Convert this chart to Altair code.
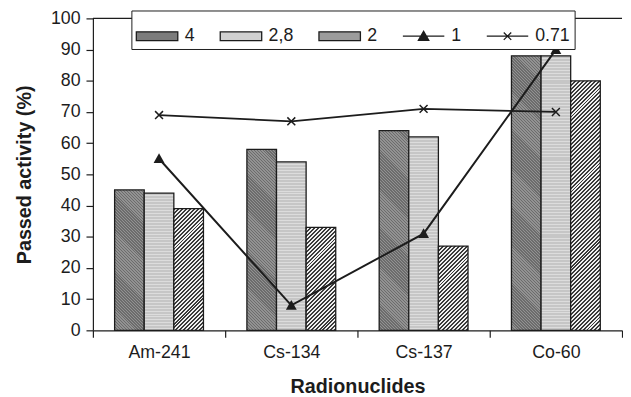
import math
import altair as alt
import pandas as pd

# ---- data ----
categories = ["Am-241", "Cs-134", "Cs-137", "Co-60"]
bar_series = ["4", "2,8", "2"]
line_series = ["1", "0.71"]
vals_4 = [45, 58, 64, 88]
vals_28 = [44, 54, 62, 88]
vals_2 = [39, 33, 27, 80]
vals_1 = [55, 8, 31, 90]
vals_071 = [69, 67, 71, 70]
y_ticks = [0, 10, 20, 30, 40, 50, 60, 70, 80, 90, 100]

# ---- layout / style ----
PLOT_W, PLOT_H = 536, 316
STEP = PLOT_W / len(categories)
BAR_W = 30
OFF_PAD = (STEP / BAR_W - 3) / 2
INK = "#1c1c1c"
FONT = "Liberation Sans"
R2 = math.sqrt(2)


def stripe_gradient(w, h, period, frac, c_dark, c_light, direction):
    if direction == "h":
        x1, y1, x2, y2 = 0, 0, 0, 1
        span = h
    else:
        k = (w + h) / (w * w + h * h)
        span = (w + h) / R2
        if direction == "/":
            x1, y1, x2, y2 = 0, 0, k * w, k * h
        else:
            x1, y1, x2, y2 = 0, 1, k * w, 1 - k * h
    n = span / period
    stops = []
    i = 0
    while i / n < 1:
        o0 = min(i / n, 1)
        o1 = min((i + frac) / n, 1)
        o2 = min((i + 1) / n, 1)
        stops += [
            alt.GradientStop(offset=o0, color=c_dark),
            alt.GradientStop(offset=o1, color=c_dark),
            alt.GradientStop(offset=o1, color=c_light),
            alt.GradientStop(offset=o2, color=c_light),
        ]
        i += 1
    return alt.LinearGradient(gradient="linear", stops=stops,
                              x1=x1, y1=y1, x2=x2, y2=y2)


styles = {
    "4": dict(period=3 / R2, frac=0.5, c_dark="#6c6c6c", c_light="#929292", direction="\\"),
    "2,8": dict(period=3.0, frac=0.67, c_dark="#c6c6c6", c_light="#dcdcdc", direction="h"),
    "2": dict(period=4 / R2, frac=0.5, c_dark="#3a3a3a", c_light="#efefef", direction="/"),
}

X = alt.X(
    "cat:N",
    sort=categories,
    scale=alt.Scale(domain=categories, paddingInner=0, paddingOuter=0),
    axis=alt.Axis(
        title="Radionuclides", labelAngle=0, tickBand="extent", tickSize=7,
        labelPadding=7, titlePadding=15, labelFontSize=18, titleFontSize=20,
        titleFontWeight="bold", domainColor=INK, tickColor=INK, labelColor=INK,
        titleColor=INK, domainWidth=1.2, tickWidth=1.2,
    ),
)
XO = alt.XOffset(
    "series:N",
    scale=alt.Scale(domain=bar_series, paddingInner=0, paddingOuter=OFF_PAD),
)
Y = alt.Y(
    "value:Q",
    scale=alt.Scale(domain=[0, 100], nice=False),
    axis=alt.Axis(
        title="Passed activity (%)", values=y_ticks, grid=False, tickSize=7,
        labelPadding=6, titlePadding=16, labelFontSize=18, titleFontSize=20,
        titleFontWeight="bold", domainColor=INK, tickColor=INK, labelColor=INK,
        titleColor=INK, domainWidth=1.2, tickWidth=1.2,
    ),
)

layers = []

# top frame line at 100
layers.append(
    alt.Chart(pd.DataFrame({"value": [100]}))
    .mark_rule(color=INK, strokeWidth=1.2)
    .encode(y=Y)
)

# bars, each with its own hatch gradient
for sname, vals in zip(bar_series, [vals_4, vals_28, vals_2]):
    for cat, v in zip(categories, vals):
        grad = stripe_gradient(BAR_W, v * PLOT_H / 100, **styles[sname])
        layers.append(
            alt.Chart(pd.DataFrame({"cat": [cat], "series": [sname], "value": [v]}))
            .mark_bar(fill=grad, stroke=INK, strokeWidth=1.3)
            .encode(x=X, xOffset=XO, y=Y)
        )

df1 = pd.DataFrame({"cat": categories, "value": vals_1})
df071 = pd.DataFrame({"cat": categories, "value": vals_071})

layers.append(alt.Chart(df1).mark_line(color=INK, strokeWidth=2).encode(x=X, y=Y))
layers.append(
    alt.Chart(df1)
    .mark_point(shape="M0,-1L1,0.8L-1,0.8Z", filled=True, color=INK, size=121, opacity=1)
    .encode(x=X, y=Y)
)
layers.append(alt.Chart(df071).mark_line(color=INK, strokeWidth=1.8).encode(x=X, y=Y))
layers.append(
    alt.Chart(df071)
    .mark_point(shape="M-1,-1L1,1M-1,1L1,-1", filled=False, color=INK,
                size=64, strokeWidth=1.5, opacity=1)
    .encode(x=X, y=Y)
)

# invisible layer that carries the legend
all_series = bar_series + line_series
leg_rows = []
for sname, vals in zip(all_series, [vals_4, vals_28, vals_2, vals_1, vals_071]):
    for cat, v in zip(categories, vals):
        leg_rows.append({"cat": cat, "series": sname, "value": v})
leg_df = pd.DataFrame(leg_rows)

bar_shape = "M-1,-0.21H1V0.21H-1Z"
tri_shape = "M-1,0H1M-0.25,0.2L0,-0.24L0.25,0.2Z"
x_shape = "M-1,0H1M-0.18,-0.18L0.18,0.18M-0.18,0.18L0.18,-0.18"

legend = alt.Legend(
    title=None, orient="none", legendX=39, legendY=-8, direction="horizontal",
    fillColor="white", strokeColor=INK, padding=4,
    symbolSize=1764, symbolStrokeWidth=1.3, symbolOpacity=1,
    labelFontSize=18, labelColor=INK, labelOffset=6, columnPadding=22,
    labelFont=FONT,
)
layers.append(
    alt.Chart(leg_df)
    .mark_point(opacity=0, size=1)
    .encode(
        x=X,
        y=Y,
        fill=alt.Fill("series:N", scale=alt.Scale(domain=all_series,
                      range=["#7c7c7c", "#d0d0d0", "#9c9c9c", INK, INK]), legend=legend),
        stroke=alt.Stroke("series:N", scale=alt.Scale(domain=all_series,
                          range=[INK, INK, INK, INK, INK]), legend=legend),
        shape=alt.Shape("series:N", scale=alt.Scale(domain=all_series,
                        range=[bar_shape, bar_shape, bar_shape, tri_shape, x_shape]),
                        legend=legend),
    )
)

chart = (
    alt.layer(*layers)
    .properties(
        width=PLOT_W, height=PLOT_H,
        autosize=alt.AutoSizeParams(type="none"),
        padding={"left": 86, "top": 8, "right": 1, "bottom": 65},
        background="white",
    )
    .configure(font=FONT)
    .configure_view(stroke=None)
    .configure_legend(strokeWidth=1)
)

chart.save("out.html", embed_options={"renderer": "svg", "actions": False})
